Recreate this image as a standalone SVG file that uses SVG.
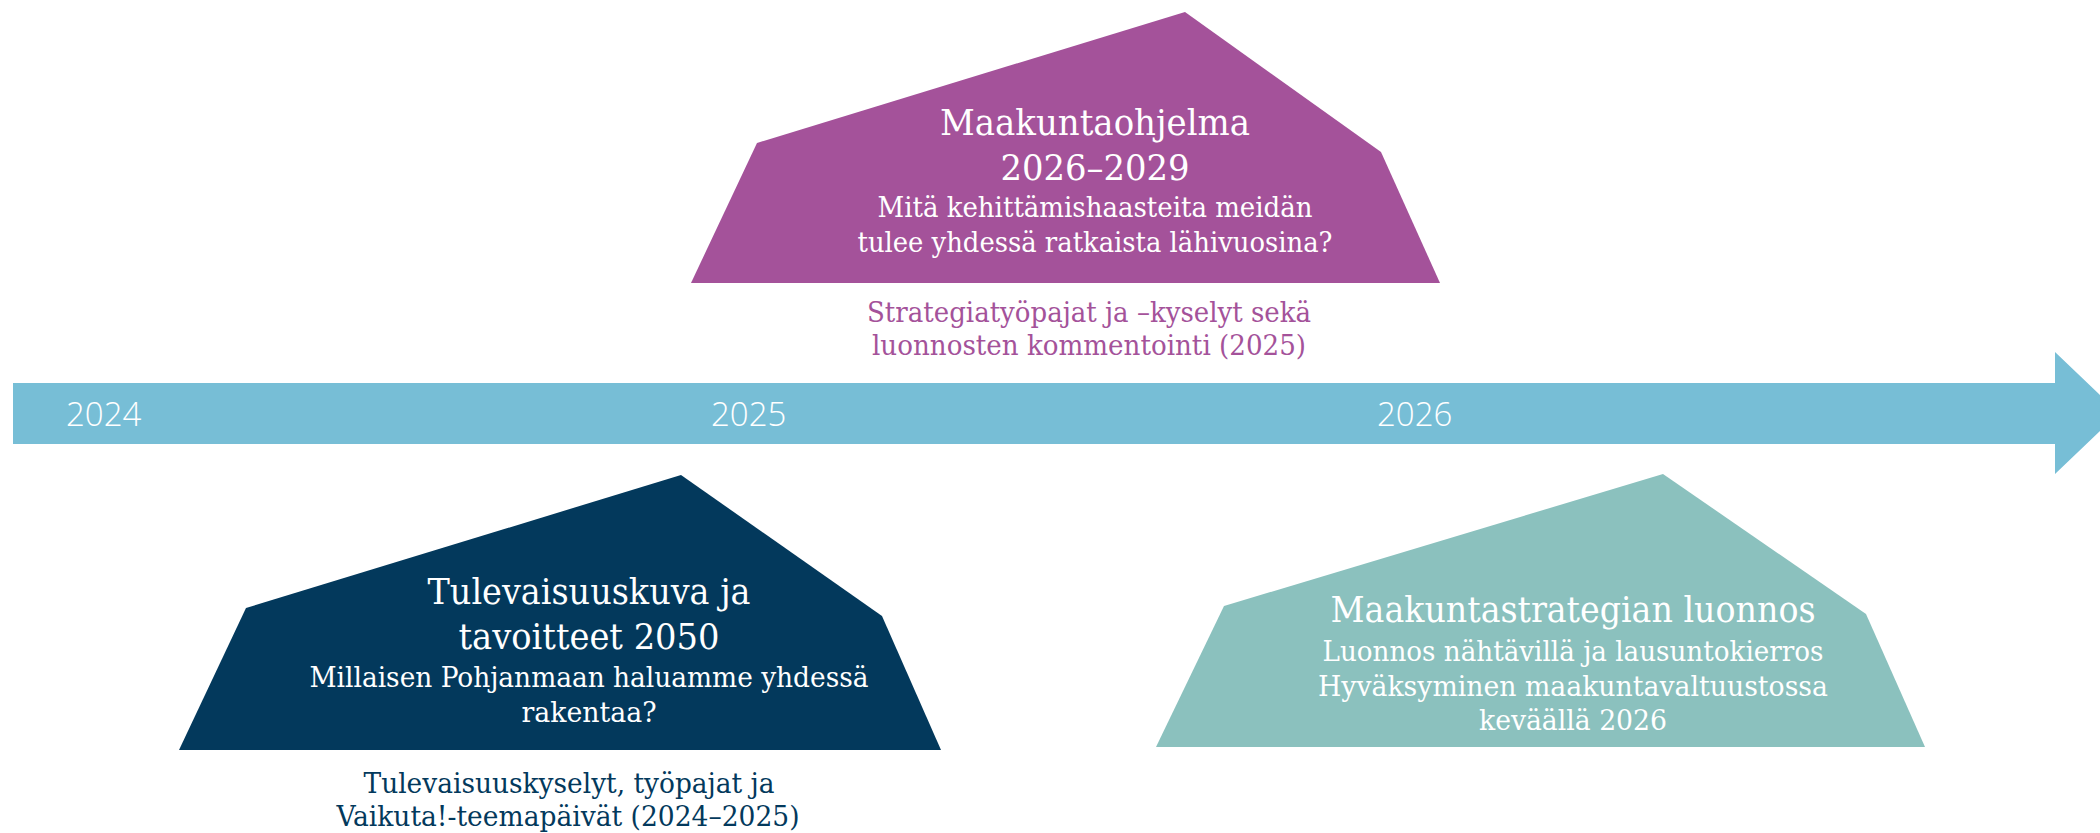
<svg xmlns="http://www.w3.org/2000/svg" width="2100" height="833" viewBox="0 0 2100 833">
<style>
.t{font-family:"DejaVu Serif Condensed","DejaVu Serif","Liberation Serif",serif;text-anchor:middle}
.w{fill:#ffffff}
.h{font-size:35px}
.s{font-size:27px}
.yr{font-family:"Open Sans","Liberation Sans",sans-serif;font-size:33px;fill:#ffffff;font-weight:300}
</style>
<rect width="2100" height="833" fill="#ffffff"/>
<g id="timeline">
<polygon points="13,383 2055,383 2055,352 2119,413 2055,474 2055,444 13,444" fill="#77BED6"/>
<text class="yr" x="66" y="426">2024</text>
<text class="yr" x="711" y="426">2025</text>
<text class="yr" x="1377" y="426">2026</text>
</g>
<g id="maakuntaohjelma">
<polygon points="1185,12 757,143 691,283 1440,283 1381,152" fill="#A4529A"/>
<text class="t w h" x="1095" y="135" textLength="310" lengthAdjust="spacingAndGlyphs">Maakuntaohjelma</text>
<text class="t w h" x="1095" y="180" textLength="189" lengthAdjust="spacingAndGlyphs">2026–2029</text>
<text class="t w s" x="1095" y="217" textLength="435" lengthAdjust="spacingAndGlyphs">Mitä kehittämishaasteita meidän</text>
<text class="t w s" x="1095" y="252" textLength="475" lengthAdjust="spacingAndGlyphs">tulee yhdessä ratkaista lähivuosina?</text>
<text class="t s" fill="#A4529A" x="1089" y="322" textLength="444" lengthAdjust="spacingAndGlyphs">Strategiatyöpajat ja –kyselyt sekä</text>
<text class="t s" fill="#A4529A" x="1089" y="355" textLength="434" lengthAdjust="spacingAndGlyphs">luonnosten kommentointi (2025)</text>
</g>
<g id="tulevaisuuskuva">
<polygon points="681,475 246,608 179,750 941,750 882,616" fill="#03395C"/>
<text class="t w h" x="589" y="604" textLength="323" lengthAdjust="spacingAndGlyphs">Tulevaisuuskuva ja</text>
<text class="t w h" x="589" y="649" textLength="261" lengthAdjust="spacingAndGlyphs">tavoitteet 2050</text>
<text class="t w s" x="589" y="687" textLength="559" lengthAdjust="spacingAndGlyphs">Millaisen Pohjanmaan haluamme yhdessä</text>
<text class="t w s" x="589" y="722" textLength="135" lengthAdjust="spacingAndGlyphs">rakentaa?</text>
<text class="t s" fill="#03395C" x="569" y="793" textLength="411" lengthAdjust="spacingAndGlyphs">Tulevaisuuskyselyt, työpajat ja</text>
<text class="t s" fill="#03395C" x="568" y="826" textLength="463" lengthAdjust="spacingAndGlyphs">Vaikuta!-teemapäivät (2024–2025)</text>
</g>
<g id="maakuntastrategia">
<polygon points="1663,474 1224,606 1156,747 1925,747 1866,614" fill="#8BC1BE"/>
<text class="t w h" x="1573" y="622" textLength="485" lengthAdjust="spacingAndGlyphs">Maakuntastrategian luonnos</text>
<text class="t w s" x="1573" y="661" textLength="501" lengthAdjust="spacingAndGlyphs">Luonnos nähtävillä ja lausuntokierros</text>
<text class="t w s" x="1573" y="696" textLength="510" lengthAdjust="spacingAndGlyphs">Hyväksyminen maakuntavaltuustossa</text>
<text class="t w s" x="1573" y="730" textLength="188" lengthAdjust="spacingAndGlyphs">keväällä 2026</text>
</g>
</svg>
